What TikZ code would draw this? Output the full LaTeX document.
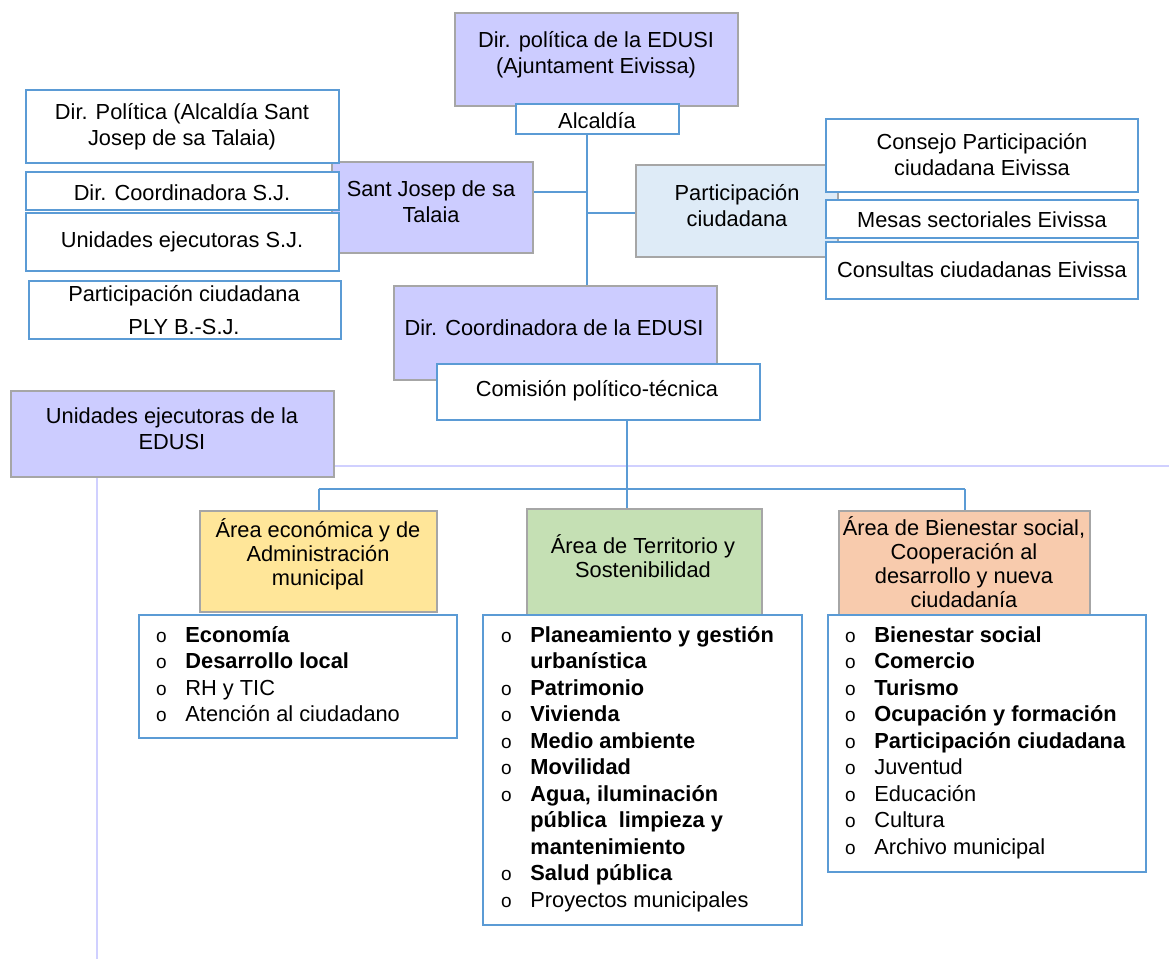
\documentclass[tikz,border=0pt]{standalone}
\usepackage{fontspec}
\setmainfont{Liberation Sans}
\usetikzlibrary{fit}

\definecolor{lila}{RGB}{204,204,255}
\definecolor{gris}{RGB}{166,166,166}
\definecolor{azul}{RGB}{91,155,213}
\definecolor{celeste}{RGB}{222,235,247}
\definecolor{amarillo}{RGB}{255,230,153}
\definecolor{verde}{RGB}{197,224,180}
\definecolor{naranja}{RGB}{248,203,173}
\definecolor{lavanda}{RGB}{208,208,255}

\newcommand\bul{\llap{\fontsize{9.5}{9.5}\selectfont o\hspace{9.3pt}}}

\tikzset{
  caja/.style={rectangle,inner sep=0pt,line width=1pt},
  boxlila/.style={caja,draw=gris,fill=lila},
  boxceleste/.style={caja,draw=gris,fill=celeste},
  boxblanca/.style={caja,draw=azul,fill=white},
  txt/.style={align=center,inner sep=0pt,yshift=-1pt,font=\fontsize{10.9}{13}\selectfont},
  txtarea/.style={align=center,inner sep=0pt,font=\fontsize{10.9}{12}\selectfont},
  item/.style={anchor=base west,inner sep=0pt,font=\fontsize{10.9}{13}\selectfont},
  conn/.style={draw=azul,line width=1pt},
  guia/.style={draw=lavanda,line width=1pt}
}

\begin{document}
\begin{tikzpicture}[x=0.5pt,y=-0.5pt]
\useasboundingbox (0,0) rectangle (1169,959);

\node[boxlila,fit={(455,13) (738,106)}] (dpe) {};
\node[txt] (dpet) at (596,53) {Dir. política de la EDUSI\\(Ajuntament Eivissa)};
\node[boxblanca,fit={(516,104) (679,134)}] (alc) {};
\node[txt] (alct) at (597,119) {Alcaldía};

\node[boxlila,fit={(332,162) (533,253)}] (sjt) {};
\node[txt] (sjtt) at (431,200) {Sant Josep de sa\\Talaia};
\node[boxblanca,fit={(26,90) (339,163)}] (dpsj) {};
\node[txt] (dpsjt) at (182,125) {Dir. Política (Alcaldía Sant\\Josep de sa Talaia)};
\node[boxblanca,fit={(26,172) (339,210)}] (dcsj) {};
\node[txt] (dcsjt) at (182,191) {Dir. Coordinadora S.J.};
\node[boxblanca,fit={(26,213) (339,271)}] (uesj) {};
\node[txt] (uesjt) at (182,240) {Unidades ejecutoras S.J.};
\node[boxblanca,fit={(29,281) (341,339)}] (pcsj) {};
\node[txt] (pcsjt) at (184,308) {Participación ciudadana\\[3.75pt]PLY B.-S.J.};

\node[boxceleste,fit={(636,165) (838,257)}] (pc) {};
\node[txt] (pct) at (737,204) {Participación\\ciudadana};
\node[boxblanca,fit={(826,119) (1138,192)}] (cpe) {};
\node[txt] (cpet) at (982,153) {Consejo Participación\\ciudadana Eivissa};
\node[boxblanca,fit={(826,200) (1138,238)}] (mse) {};
\node[txt] (mset) at (982,218) {Mesas sectoriales Eivissa};
\node[boxblanca,fit={(826,242) (1138,299)}] (cce) {};
\node[txt] (ccet) at (982,268) {Consultas ciudadanas Eivissa};

\node[boxlila,fit={(394,286) (717,380)}] (dco) {};
\node[txt] (dcot) at (554,326) {Dir. Coordinadora de la EDUSI};
\node[boxblanca,fit={(437,364) (760,420)}] (com) {};
\node[txt] (comt) at (597,389) {Comisión político-técnica};

\node[boxlila,fit={(11,391) (334,477)}] (ued) {};
\node[txt] (uedt) at (172,427) {Unidades ejecutoras de la\\EDUSI};

\coordinate (bordeR) at (1169,466);
\coordinate (bordeB) at (97,959);
\draw[guia] (bordeR -| ued.east) -- (bordeR);
\draw[guia] (bordeB |- ued.south) -- (bordeB);

\node[caja,draw=gris,fill=amarillo,fit={(200,511) (437,612)}] (aeco) {};
\node[txtarea] (aecot) at (318,554) {Área económica y de\\Administración\\municipal};
\node[caja,draw=gris,fill=verde,fit={(527,509) (762,615)}] (ater) {};
\node[txtarea] (atert) at (643,556) {Área de Territorio y\\Sostenibilidad};
\node[caja,draw=gris,fill=naranja,fit={(839,511) (1090,615)}] (abie) {};
\node[txtarea] (abiet) at (964,562) {Área de Bienestar social,\\Cooperación al\\desarrollo y nueva\\ciudadanía};

\node[boxblanca,fit={(139,615) (457,738)}] (leco) {};
\foreach \t [count=\i] in {{\bul\bfseries Economía},{\bul\bfseries Desarrollo local},\bul RH y TIC,\bul Atención al ciudadano}
  \node[item] (leco\i) at (185,{615.5+26.5*\i}) {\t};

\node[boxblanca,fit={(483,615) (802,925)}] (lter) {};
\foreach \t [count=\i] in {{\bul\bfseries Planeamiento y gestión},{\bfseries urbanística},{\bul\bfseries Patrimonio},{\bul\bfseries Vivienda},{\bul\bfseries Medio ambiente},{\bul\bfseries Movilidad},{\bul\bfseries Agua, iluminación},{\bfseries pública\ \ limpieza y},{\bfseries mantenimiento},{\bul\bfseries Salud pública},\bul Proyectos municipales}
  \node[item] (lter\i) at (530,{615.5+26.5*\i}) {\t};

\node[boxblanca,fit={(828,615) (1146,872)}] (lbie) {};
\foreach \t [count=\i] in {{\bul\bfseries Bienestar social},{\bul\bfseries Comercio},{\bul\bfseries Turismo},{\bul\bfseries Ocupación y formación},{\bul\bfseries Participación ciudadana},\bul Juventud,\bul Educación,\bul Cultura,\bul Archivo municipal}
  \node[item] (lbie\i) at (874,{615.5+26.5*\i}) {\t};

\coordinate (spine) at (587,0);
\draw[conn] (spine |- alc.south) -- (spine |- dco.north);
\coordinate (j1) at (587,192);
\draw[conn] (j1 -| sjt.east) -- (j1);
\coordinate (j2) at (587,213);
\draw[conn] (j2) -- (j2 -| pc.west);

\coordinate (j3) at (627,489);
\draw[conn] (j3 |- com.south) -- (j3);
\draw[conn] (j3 -| aeco.north) -- (j3 -| abie.north);
\draw[conn] (j3 -| aeco.north) -- (aeco.north);
\draw[conn] (j3) -- (j3 |- ater.north);
\draw[conn] (j3 -| abie.north) -- (abie.north);
\end{tikzpicture}
\end{document}
